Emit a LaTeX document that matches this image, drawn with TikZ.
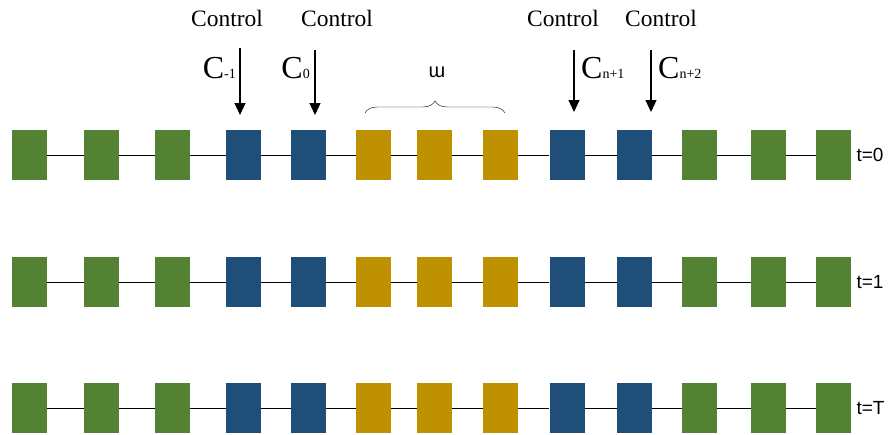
\documentclass[tikz,border=0pt]{standalone}
\usepackage{fontspec}
\setmainfont{Liberation Serif}
\newfontfamily\labfont{Liberation Sans}
\usepackage{xcolor}
\usetikzlibrary{arrows.meta,decorations.pathreplacing}
\definecolor{cgreen}{HTML}{548235}
\definecolor{cblue}{HTML}{1F4E79}
\definecolor{cgold}{HTML}{BF9000}
\tikzset{
  cell/.style={rectangle,inner sep=0pt,minimum width=35pt,minimum height=50pt},
  ctrl/.style={font=\fontsize{23.5}{26}\selectfont},
  arr/.style={-{Triangle[width=11pt,length=12pt]},line width=1.2pt},
}
\begin{document}
\begin{tikzpicture}[x=1pt,y=-1pt]
    \useasboundingbox (0,0) rectangle (892,434);
    % three rows of cells
    \foreach \r/\y/\t in {1/155/0,2/282/1,3/408/T}{
      \foreach \i/\x/\c in {1/29.5/cgreen,2/101.5/cgreen,3/172.5/cgreen,4/243.5/cblue,5/308.5/cblue,
                            6/373.5/cgold,7/434.5/cgold,8/500.5/cgold,9/567/cblue,10/634.5/cblue,
                            11/699.5/cgreen,12/768.5/cgreen,13/833.5/cgreen}{
        \node[cell,fill=\c] (b\r-\i) at (\x,\y) {};
      }
      \node[anchor=west,font=\labfont\fontsize{19}{22}\selectfont] (t\r) at (853,\y) {t=\t};
    }
    \foreach \r in {1,2,3}{
      \foreach \i [evaluate=\i as \j using int(\i+1)] in {1,...,12}{
        \draw[thin] (b\r-\i.east) -- (b\r-\j.west);
      }
    }
    % control inputs
    \node[ctrl] (k1) at (227,18) {Control};
    \node[ctrl] (k2) at (337,18) {Control};
    \node[ctrl] (k3) at (563,18) {Control};
    \node[ctrl] (k4) at (661,18) {Control};
    \coordinate (s1) at (240,48);  \coordinate (e1) at (240,115);
    \coordinate (s2) at (315,50);  \coordinate (e2) at (315,115);
    \coordinate (s3) at (574,50);  \coordinate (e3) at (574,112);
    \coordinate (s4) at (651,50);  \coordinate (e4) at (651,112);
    \foreach \n in {1,...,4}{
      \draw[arr] (s\n) -- (e\n);
    }
    \node[anchor=east,inner sep=1pt] (c1) at (237,68) {\fontsize{32}{32}\selectfont C\fontsize{14}{14}\selectfont -1};
    \node[anchor=east,inner sep=1pt] (c2) at (311,68) {\fontsize{32}{32}\selectfont C\fontsize{14}{14}\selectfont 0};
    \node[anchor=west,inner sep=1pt] (c3) at (580,68) {\fontsize{32}{32}\selectfont C\fontsize{14}{14}\selectfont n+1};
    \node[anchor=west,inner sep=1pt] (c4) at (657,68) {\fontsize{32}{32}\selectfont C\fontsize{14}{14}\selectfont n+2};
    % window
    \coordinate (w1) at (365,113);
    \coordinate (w2) at (505,113);
    \draw[thin,decorate,decoration={brace,amplitude=12pt}] (w1) -- (w2);
    \node[font=\labfont\fontsize{20}{22}\selectfont] (w) at (437,72) {ɯ};
\end{tikzpicture}
\end{document}
